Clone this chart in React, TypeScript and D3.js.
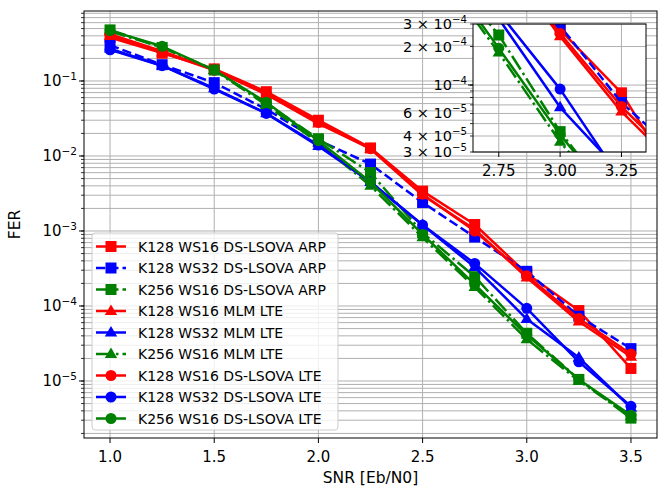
import React from "react";
import * as d3 from "d3";

const snr = [1.0, 1.25, 1.5, 1.75, 2.0, 2.25, 2.5, 2.75, 3.0, 3.25, 3.5];

const seriesNames = [
  "K128 WS16 DS-LSOVA ARP",
  "K128 WS32 DS-LSOVA ARP",
  "K256 WS16 DS-LSOVA ARP",
  "K128 WS16 MLM LTE",
  "K128 WS32 MLM LTE",
  "K256 WS16 MLM LTE",
  "K128 WS16 DS-LSOVA LTE",
  "K128 WS32 DS-LSOVA LTE",
  "K256 WS16 DS-LSOVA LTE",
];

const k128ws16Arp = [0.38, 0.235, 0.145, 0.072, 0.03, 0.0128, 0.0034, 0.00122, 0.00027, 8.7e-5, 1.47e-5];
const k128ws32Arp = [0.3, 0.165, 0.095, 0.042, 0.0162, 0.0078, 0.0024, 0.00083, 0.00029, 7.3e-5, 2.7e-5];
const k256ws16Arp = [0.48, 0.28, 0.14, 0.05, 0.017, 0.006, 0.00095, 0.000246, 4.33e-5, 1.05e-5, 3.2e-6];
const k128ws16Mlm = [0.4, 0.24, 0.14, 0.066, 0.027, 0.0125, 0.003, 0.00105, 0.00024, 6.2e-5, 2.1e-5];
const k128ws32Mlm = [0.27, 0.16, 0.08, 0.037, 0.0135, 0.0045, 0.0012, 0.00033, 6.7e-5, 2.05e-5, 4.4e-6];
const k256ws16Mlm = [0.46, 0.28, 0.14, 0.048, 0.015, 0.004, 0.00082, 0.000179, 3.6e-5, 1.0e-5, 3.4e-6];
const k128ws16Lte = [0.42, 0.25, 0.14, 0.068, 0.028, 0.0125, 0.0031, 0.001, 0.000253, 6.8e-5, 2.29e-5];
const k128ws32Lte = [0.26, 0.16, 0.078, 0.037, 0.014, 0.0045, 0.0012, 0.00037, 9.3e-5, 1.8e-5, 4.6e-6];
const k256ws16Lte = [0.47, 0.29, 0.14, 0.052, 0.016, 0.0045, 0.0009, 0.000194, 4.1e-5, 1.05e-5, 3.5e-6];

const seriesValues = [
  k128ws16Arp, k128ws32Arp, k256ws16Arp,
  k128ws16Mlm, k128ws32Mlm, k256ws16Mlm,
  k128ws16Lte, k128ws32Lte, k256ws16Lte,
];

const xTicks = [1.0, 1.5, 2.0, 2.5, 3.0, 3.5];
const yTickExps = [-1, -2, -3, -4, -5];
const insetXTicks = [2.75, 3.0, 3.25];
const insetYTicks = [
  { v: 3e-4, m: "3", e: "−4" },
  { v: 2e-4, m: "2", e: "−4" },
  { v: 1e-4, m: "", e: "−4" },
  { v: 6e-5, m: "6", e: "−5" },
  { v: 4e-5, m: "4", e: "−5" },
  { v: 3e-5, m: "3", e: "−5" },
];

const RED = "#ff0000";
const BLUE = "#0000ff";
const GREEN = "#008000";
const LW = 2.5;
const DASHED = `${3.7 * LW},${1.6 * LW}`;
const DASHDOT = `${6.4 * LW},${1.6 * LW},${1 * LW},${1.6 * LW}`;

const styles = [
  { color: RED, dash: "", marker: "s" },
  { color: BLUE, dash: DASHED, marker: "s" },
  { color: GREEN, dash: DASHDOT, marker: "s" },
  { color: RED, dash: "", marker: "^" },
  { color: BLUE, dash: "", marker: "^" },
  { color: GREEN, dash: DASHDOT, marker: "^" },
  { color: RED, dash: "", marker: "o" },
  { color: BLUE, dash: "", marker: "o" },
  { color: GREEN, dash: "", marker: "o" },
];

const FONT = "DejaVu Sans, sans-serif";
const GRID = "#b0b0b0";

function Marker({ type, x, y, color }: { type: string; x: number; y: number; color: string }) {
  const s = 11;
  if (type === "s") return <rect x={x - s / 2} y={y - s / 2} width={s} height={s} fill={color} />;
  if (type === "o") return <circle cx={x} cy={y} r={s / 2} fill={color} />;
  const r = 6.5;
  return (
    <path
      d={`M${x},${y - r} L${x + r * 0.95},${y + r * 0.6} L${x - r * 0.95},${y + r * 0.6} Z`}
      fill={color}
    />
  );
}

function Sup({ x, y, base, exp, anchor, size }: any) {
  return (
    <text x={x} y={y} textAnchor={anchor} fontSize={size} fontFamily={FONT} fill="#000">
      {base}
      <tspan fontSize={size * 0.7} dy={-size * 0.42}>{exp}</tspan>
    </text>
  );
}

export default function App() {
  const W = 664, H = 486;
  const L = 84, R = 657, T = 11, B = 438;
  const x = d3.scaleLinear().domain([0.875, 3.625]).range([L, R]);
  const y = d3.scaleLog().domain([Math.pow(10, -5.76), Math.pow(10, -0.0667)]).range([B, T]);

  const iL = 473, iR = 646, iT = 24, iB = 152;
  const ix = d3.scaleLinear().domain([2.645, 3.35]).range([iL, iR]);
  const iy = d3.scaleLog().domain([3e-5, 3e-4]).range([iB, iT]);

  const minorY: number[] = [];
  for (let e = -7; e <= 0; e++) for (let m = 1; m <= 9; m++) {
    const v = m * Math.pow(10, e);
    if (v >= y.domain()[0] && v <= y.domain()[1]) minorY.push(v);
  }
  const insetMinor: number[] = [];
  for (let e = -5; e <= -4; e++) for (let m = 1; m <= 9; m++) {
    const v = m * Math.pow(10, e);
    if (v >= 3e-5 * 0.999 && v <= 3e-4 * 1.001) insetMinor.push(v);
  }

  const line = (sx: any, sy: any) =>
    d3.line<number>().x((_, i) => sx(snr[i])).y((d) => sy(d));

  const fs = 15;
  const legX = 92, legY = 233, legW = 246, legH = 197;
  const rowH = 21.5;

  return (
    <svg width={W} height={H} style={{ position: "absolute", left: 0, top: 0 }}>
      <rect width={W} height={H} fill="#fff" />
      <defs>
        <clipPath id="mainclip"><rect x={L} y={T} width={R - L} height={B - T} /></clipPath>
        <clipPath id="insetclip"><rect x={iL} y={iT} width={iR - iL} height={iB - iT} /></clipPath>
      </defs>
      {/* grid */}
      {minorY.map((v, i) => (
        <line key={"gy" + i} x1={L} x2={R} y1={y(v)} y2={y(v)} stroke={GRID} strokeWidth={1} />
      ))}
      {xTicks.map((v, i) => (
        <line key={"gx" + i} x1={x(v)} x2={x(v)} y1={T} y2={B} stroke={GRID} strokeWidth={1} />
      ))}
      {/* series */}
      <g clipPath="url(#mainclip)">
        {seriesValues.map((vals, si) => (
          <g key={"s" + si}>
            <path d={line(x, y)(vals) || ""} fill="none" stroke={styles[si].color} strokeWidth={LW}
              strokeDasharray={styles[si].dash || undefined} strokeLinejoin="round" />
            {vals.map((v, i) => (
              <Marker key={i} type={styles[si].marker} x={x(snr[i])} y={y(v)} color={styles[si].color} />
            ))}
          </g>
        ))}
      </g>
      {/* axes frame */}
      <rect x={L} y={T} width={R - L} height={B - T} fill="none" stroke="#000" strokeWidth={1} />
      {/* x ticks */}
      {xTicks.map((v, i) => (
        <g key={"xt" + i}>
          <line x1={x(v)} x2={x(v)} y1={B} y2={B + 5} stroke="#000" />
          <text x={x(v)} y={B + 23.5} textAnchor="middle" fontSize={fs} fontFamily={FONT}>{v.toFixed(1)}</text>
        </g>
      ))}
      {/* y ticks */}
      {minorY.map((v, i) => (
        <line key={"ym" + i} x1={L - 3} x2={L} y1={y(v)} y2={y(v)} stroke="#000" strokeWidth={0.8} />
      ))}
      {yTickExps.map((e, i) => (
        <g key={"yt" + i}>
          <line x1={L - 5} x2={L} y1={y(Math.pow(10, e))} y2={y(Math.pow(10, e))} stroke="#000" />
          <Sup x={L - 7} y={y(Math.pow(10, e)) + 5.5} base="10" exp={"−" + Math.abs(e)} anchor="end" size={fs} />
        </g>
      ))}
      <text x={(L + R) / 2} y={483} textAnchor="middle" fontSize={15.5} fontFamily={FONT}>SNR [Eb/N0]</text>
      <text transform={`translate(${20},${(T + B) / 2}) rotate(-90)`} textAnchor="middle" fontSize={15.5} fontFamily={FONT}>FER</text>

      {/* legend */}
      <g>
        <rect x={legX} y={legY} width={legW} height={legH} rx={3} fill="#fff" fillOpacity={0.8} stroke="#cccccc" strokeWidth={1} />
        {seriesNames.map((n, i) => {
          const cy = legY + 13.5 + i * rowH;
          const st = styles[i];
          return (
            <g key={"lg" + i}>
              <line x1={96} x2={126} y1={cy} y2={cy} stroke={st.color} strokeWidth={LW} strokeDasharray={st.dash || undefined} />
              <Marker type={st.marker} x={111} y={cy} color={st.color} />
              <text x={138} y={cy + 5} fontSize={14} fontFamily={FONT}>{n}</text>
            </g>
          );
        })}
      </g>

      {/* inset */}
      <rect x={iL} y={iT} width={iR - iL} height={iB - iT} fill="#fff" />
      {insetMinor.map((v, i) => (
        <line key={"igy" + i} x1={iL} x2={iR} y1={iy(v)} y2={iy(v)} stroke={GRID} strokeWidth={1} />
      ))}
      {insetXTicks.map((v, i) => (
        <line key={"igx" + i} x1={ix(v)} x2={ix(v)} y1={iT} y2={iB} stroke={GRID} strokeWidth={1} />
      ))}
      <g clipPath="url(#insetclip)">
        {seriesValues.map((vals, si) => (
          <g key={"is" + si}>
            <path d={line(ix, iy)(vals) || ""} fill="none" stroke={styles[si].color} strokeWidth={LW}
              strokeDasharray={styles[si].dash || undefined} strokeLinejoin="round" />
            {vals.map((v, i) => (
              <Marker key={i} type={styles[si].marker} x={ix(snr[i])} y={iy(v)} color={styles[si].color} />
            ))}
          </g>
        ))}
      </g>
      <rect x={iL} y={iT} width={iR - iL} height={iB - iT} fill="none" stroke="#000" strokeWidth={1} />
      {insetXTicks.map((v, i) => (
        <g key={"ixt" + i}>
          <line x1={ix(v)} x2={ix(v)} y1={iB} y2={iB + 5} stroke="#000" />
          <text x={ix(v)} y={iB + 23.5} textAnchor="middle" fontSize={fs} fontFamily={FONT}>{v.toFixed(2)}</text>
        </g>
      ))}
      {insetMinor.map((v, i) => (
        <line key={"iym" + i} x1={iL - 3} x2={iL} y1={iy(v)} y2={iy(v)} stroke="#000" strokeWidth={0.8} />
      ))}
      <line x1={iL - 5} x2={iL} y1={iy(1e-4)} y2={iy(1e-4)} stroke="#000" />
      {insetYTicks.map((t, i) => (
        <Sup key={"iyt" + i} x={iL - 6} y={iy(t.v) + 5} base={t.m ? `${t.m} × 10` : "10"} exp={t.e} anchor="end" size={14.5} />
      ))}
    </svg>
  );
}
